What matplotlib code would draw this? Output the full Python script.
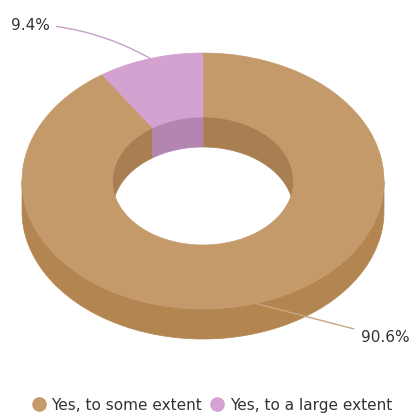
import numpy as np
import matplotlib
matplotlib.use("Agg")
import matplotlib.pyplot as plt
from matplotlib.patches import Polygon
from matplotlib.lines import Line2D

categories = ["Yes, to some extent", "Yes, to a large extent"]
values = [90.6, 9.4]
labels = ["90.6%", "9.4%"]

top_colors = ["#C59A6B", "#D3A2D0"]
side_colors = ["#B38651", "#B98AB6"]
inner_colors = ["#A97F52", "#B585B2"]
line_colors = ["#C9A57E", "#C9A0C8"]

W, H = 411, 414
fig = plt.figure(figsize=(W / 100, H / 100), dpi=100)
ax = fig.add_axes([0, 0, 1, 1])
ax.set_xlim(0, W)
ax.set_ylim(H, 0)
ax.axis("off")

cx, cy, rx, ry, depth, inner = 203, 182, 181, 128, 30, 0.5


def pt(theta_deg, r, dy=0.0):
    t = np.radians(theta_deg)
    return cx + r * rx * np.cos(t), cy - r * ry * np.sin(t) + dy


def arc(a0, a1, r, dy=0.0, n=200):
    th = np.linspace(a0, a1, n)
    x, y = pt(th, r, dy)
    return np.column_stack([x, y])


# slice angles: clockwise from 12 o'clock
total = sum(values)
angles = []
start = 90.0
for v in values:
    end = start - v / total * 360.0
    angles.append((end, start))  # (low, high) in ccw terms
    start = end


def overlap(lo, hi, a, b):
    out = []
    for k in (-720, -360, 0, 360, 720):
        l, h = max(lo, a + k), min(hi, b + k)
        if h > l:
            out.append((l, h))
    return out


# outer front side walls
for i, (lo, hi) in enumerate(angles):
    for l, h in overlap(lo, hi, 180, 360):
        top = arc(l, h, 1.0)
        bot = arc(h, l, 1.0, depth)
        ax.add_patch(Polygon(np.vstack([top, bot]), closed=True,
                             facecolor=side_colors[i], edgecolor=side_colors[i], lw=0.5))

# inner back walls
for i, (lo, hi) in enumerate(angles):
    for l, h in overlap(lo, hi, 0, 180):
        top = arc(l, h, inner)
        bot = arc(h, l, inner, depth)
        ax.add_patch(Polygon(np.vstack([top, bot]), closed=True,
                             facecolor=inner_colors[i], edgecolor=inner_colors[i], lw=0.5))

# top faces
for i, (lo, hi) in enumerate(angles):
    outer_a = arc(lo, hi, 1.0)
    inner_a = arc(hi, lo, inner)
    ax.add_patch(Polygon(np.vstack([outer_a, inner_a]), closed=True,
                         facecolor=top_colors[i], edgecolor=top_colors[i], lw=0.5))

# labels with leader lines
text_pos = [(385, 338), (30, 25)]
rads = [0.0, -0.12]
for i, (lo, hi) in enumerate(angles):
    mid = (lo + hi) / 2
    ax_, ay_ = pt(mid, 1.0)
    tx, ty = text_pos[i]
    ax.annotate(labels[i], xy=(ax_, ay_), xytext=(tx, ty),
                ha="center", va="center", fontsize=11, color="#333333",
                arrowprops=dict(arrowstyle="-", color=line_colors[i], lw=1.0,
                                shrinkA=3, shrinkB=0,
                                connectionstyle=f"arc3,rad={rads[i]}"))

handles = [Line2D([], [], marker="o", linestyle="none", markersize=9.5,
                  markerfacecolor=top_colors[i], markeredgecolor=top_colors[i])
           for i in range(len(categories))]
fig.legend(handles, categories, loc="center", bbox_to_anchor=(0.515, 1 - 406 / H),
           ncol=2, frameon=False, fontsize=11, handletextpad=0.3,
           columnspacing=0.5, handlelength=1.0, labelcolor="#333333")

fig.savefig("out.png", dpi=100)
